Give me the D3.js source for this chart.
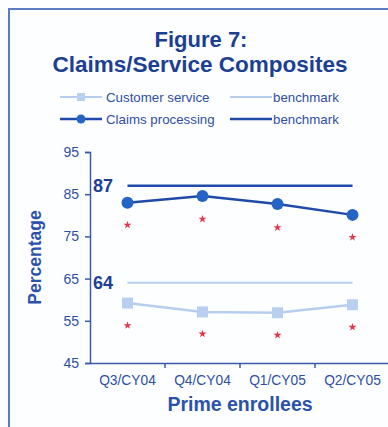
<!DOCTYPE html>
<html>
<head>
<meta charset="utf-8">
<script src="https://cdn.jsdelivr.net/npm/d3@7/dist/d3.min.js"></script>
<style>
  html, body { margin: 0; padding: 0; background: #fdfeff; overflow: hidden; }
  svg { display: block; font-family: "Liberation Sans", Arial, sans-serif; }
</style>
</head>
<body>
<svg id="chart" width="388" height="427"></svg>
<script>
// Quarterly composite scores for Prime enrollees
const quarters = ["Q3/CY04", "Q4/CY04", "Q1/CY05", "Q2/CY05"];
const claimsProcessing = [83.0, 84.6, 82.7, 80.1];
const customerService = [59.2, 57.1, 56.9, 58.8];
const claimsMarkers = [77.7, 79.1, 77.1, 74.8];    // red asterisks under claims processing
const serviceMarkers = [53.9, 51.9, 51.6, 53.5];   // red asterisks under customer service
const claimsBenchmark = 87;
const serviceBenchmark = 64;
const yTicks = [45, 55, 65, 75, 85, 95];

const svg = d3.select("#chart");

const navy = "#1c3f93";
const textBlue = "#2f4fa3";
const darkLine = "#1f4aa8";
const darkMarker = "#2563c4";
const lightLine = "#b7cdee";
const lightMarker = "#b9cff0";
const red = "#e8334a";

// Frame: only the top and left edges fall inside the page
svg.append("path")
  .attr("d", "M420,9 H9 V440")
  .attr("fill", "none")
  .attr("stroke", "#5b7cc0").attr("stroke-width", 2);

// Title
svg.append("text").attr("x", 201).attr("y", 47).attr("text-anchor", "middle")
  .attr("font-size", 22).attr("font-weight", "bold").attr("fill", navy)
  .text("Figure 7:");
svg.append("text").attr("x", 200).attr("y", 72).attr("text-anchor", "middle")
  .attr("font-size", 22.5).attr("font-weight", "bold").attr("fill", navy)
  .text("Claims/Service Composites");

// Scales
const x = d3.scaleBand().domain(quarters).range([90, 390]);
const y = d3.scaleLinear().domain([45, 95]).range([363, 152]);
const cx = d => x(d) + x.bandwidth() / 2;

// Y axis
const yAxis = svg.append("g").attr("transform", "translate(90,0)")
  .call(d3.axisLeft(y).tickValues(yTicks).tickSize(5).tickPadding(6));
yAxis.select(".domain").attr("stroke", "#3a5aa8").attr("stroke-width", 1.5);
yAxis.selectAll(".tick line").attr("stroke", "#3a5aa8").attr("stroke-width", 1.5);
yAxis.selectAll(".tick text").attr("fill", textBlue).attr("font-size", 14)
  .attr("font-family", "Liberation Sans, Arial, sans-serif");

// X axis
const xAxis = svg.append("g").attr("transform", "translate(0,363)")
  .call(d3.axisBottom(x).tickSize(0).tickPadding(12));
xAxis.select(".domain").attr("stroke", "#3a5aa8").attr("stroke-width", 1.5);
xAxis.selectAll(".tick text").attr("fill", textBlue).attr("font-size", 13.8)
  .attr("font-family", "Liberation Sans, Arial, sans-serif");
// Separators between quarters
svg.append("g").selectAll("line")
  .data(quarters.slice(1))
  .join("line")
  .attr("x1", d => x(d)).attr("x2", d => x(d))
  .attr("y1", 363).attr("y2", 368)
  .attr("stroke", "#3a5aa8").attr("stroke-width", 1.5);

// Axis titles
svg.append("text")
  .attr("transform", `translate(41,${(152 + 363) / 2}) rotate(-90)`)
  .attr("text-anchor", "middle")
  .attr("font-size", 17.5).attr("font-weight", "bold").attr("fill", "#2a52ab")
  .text("Percentage");
svg.append("text").attr("x", 240).attr("y", 411).attr("text-anchor", "middle")
  .attr("font-size", 19.5).attr("font-weight", "bold").attr("fill", "#2a52ab")
  .text("Prime enrollees");

// Benchmarks
const x0 = cx(quarters[0]), x1 = cx(quarters[quarters.length - 1]);
svg.append("line").attr("x1", x0).attr("x2", x1)
  .attr("y1", y(claimsBenchmark)).attr("y2", y(claimsBenchmark))
  .attr("stroke", darkLine).attr("stroke-width", 2.5);
svg.append("line").attr("x1", x0).attr("x2", x1)
  .attr("y1", y(serviceBenchmark)).attr("y2", y(serviceBenchmark))
  .attr("stroke", lightLine).attr("stroke-width", 2);
svg.append("text").attr("x", 93).attr("y", y(claimsBenchmark) + 6)
  .attr("font-size", 18).attr("font-weight", "bold").attr("fill", navy)
  .text(claimsBenchmark);
svg.append("text").attr("x", 93).attr("y", y(serviceBenchmark) + 6)
  .attr("font-size", 18).attr("font-weight", "bold").attr("fill", navy)
  .text(serviceBenchmark);

// Series lines
const line = d3.line().x((d, i) => cx(quarters[i])).y(d => y(d));
svg.append("path").datum(claimsProcessing).attr("d", line)
  .attr("fill", "none").attr("stroke", darkLine).attr("stroke-width", 2.5);
svg.append("path").datum(customerService).attr("d", line)
  .attr("fill", "none").attr("stroke", lightLine).attr("stroke-width", 2.5);

// Markers
svg.append("g").selectAll("circle").data(claimsProcessing).join("circle")
  .attr("cx", (d, i) => cx(quarters[i])).attr("cy", d => y(d)).attr("r", 6)
  .attr("fill", darkMarker);
svg.append("g").selectAll("rect").data(customerService).join("rect")
  .attr("x", (d, i) => cx(quarters[i]) - 5.5).attr("y", d => y(d) - 5.5)
  .attr("width", 11).attr("height", 11).attr("fill", lightMarker);

// Red asterisks
const star = d3.symbol().type(d3.symbolStar).size(20);
svg.append("g").selectAll("path").data(claimsMarkers.concat(serviceMarkers)).join("path")
  .attr("d", star)
  .attr("transform", (d, i) => `translate(${cx(quarters[i % 4])},${y(d)})`)
  .attr("fill", red);

// Legend
const legend = svg.append("g").attr("font-size", 13.3).attr("fill", textBlue);
function legendRow(lx, ly, color, width, marker, label) {
  legend.append("line").attr("x1", lx).attr("x2", lx + 42).attr("y1", ly).attr("y2", ly)
    .attr("stroke", color).attr("stroke-width", width);
  if (marker === "square") {
    legend.append("rect").attr("x", lx + 17).attr("y", ly - 4).attr("width", 8).attr("height", 8)
      .attr("fill", lightMarker);
  } else if (marker === "circle") {
    legend.append("circle").attr("cx", lx + 21).attr("cy", ly).attr("r", 4.5).attr("fill", darkMarker);
  }
  legend.append("text").attr("x", lx + (marker ? 46 : 43)).attr("y", ly + 4.5)
    .attr("fill", textBlue).text(label);
}
legendRow(60, 97, lightLine, 2, "square", "Customer service");
legendRow(230, 97, lightLine, 2, null, "benchmark");
legendRow(60, 119, darkLine, 2.5, "circle", "Claims processing");
legendRow(230, 119, darkLine, 2.5, null, "benchmark");
</script>
</body>
</html>
